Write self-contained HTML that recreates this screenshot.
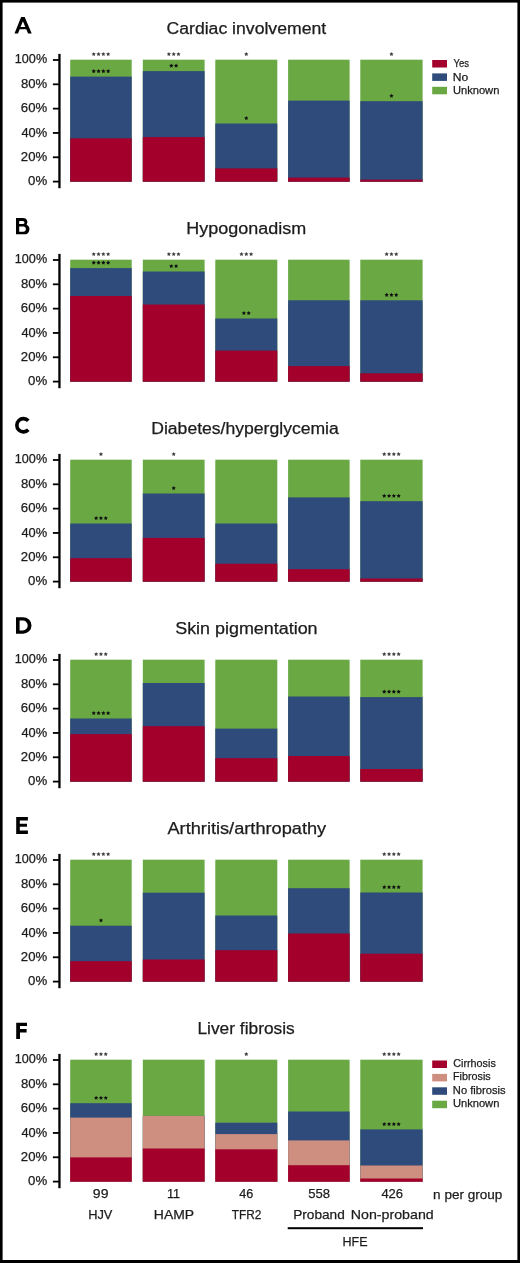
<!DOCTYPE html><html><head><meta charset="utf-8"><style>html,body{margin:0;padding:0;background:#fff;}svg{display:block;will-change:transform;}text{font-family:"Liberation Sans",sans-serif;}</style></head><body>
<svg width="520" height="1263" viewBox="0 0 520 1263">
<rect x="0" y="0" width="520" height="1263" fill="#000"/>
<rect x="2.6" y="2.6" width="514.8" height="1257.4" fill="#fff"/>
<g transform="translate(0,0)">
<path fill="#000" fill-rule="evenodd" d="M14.5 33.6L21.1 17.1H24.7L31.7 33.6H28.1L26.3 29.3H19.7L18 33.6ZM22.9 21.3L20.6 27.1H25.3Z"/>
<text x="166.51" y="33.5" font-size="16" fill="#1c1c1c" stroke="#1c1c1c" stroke-width="0.25" textLength="159.62" lengthAdjust="spacingAndGlyphs">Cardiac involvement</text>
<rect x="58.3" y="53.9" width="2.3" height="134.3" fill="#000"/>
<rect x="52.9" y="180.70" width="6" height="1.8" fill="#000"/>
<text x="28.08" y="185.36" font-size="12.5" fill="#1c1c1c" stroke="#1c1c1c" stroke-width="0.25" textLength="19.09" lengthAdjust="spacingAndGlyphs">0%</text>
<rect x="52.9" y="156.38" width="6" height="1.8" fill="#000"/>
<text x="20.84" y="161.04" font-size="12.5" fill="#1c1c1c" stroke="#1c1c1c" stroke-width="0.25" textLength="26.33" lengthAdjust="spacingAndGlyphs">20%</text>
<rect x="52.9" y="132.06" width="6" height="1.8" fill="#000"/>
<text x="21.4" y="136.72" font-size="12.5" fill="#1c1c1c" stroke="#1c1c1c" stroke-width="0.25" textLength="25.75" lengthAdjust="spacingAndGlyphs">40%</text>
<rect x="52.9" y="107.74" width="6" height="1.8" fill="#000"/>
<text x="20.83" y="112.4" font-size="12.5" fill="#1c1c1c" stroke="#1c1c1c" stroke-width="0.25" textLength="26.34" lengthAdjust="spacingAndGlyphs">60%</text>
<rect x="52.9" y="83.42" width="6" height="1.8" fill="#000"/>
<text x="20.93" y="88.08" font-size="12.5" fill="#1c1c1c" stroke="#1c1c1c" stroke-width="0.25" textLength="26.24" lengthAdjust="spacingAndGlyphs">80%</text>
<rect x="52.9" y="59.10" width="6" height="1.8" fill="#000"/>
<text x="14.84" y="62.96" font-size="12.5" fill="#1c1c1c" stroke="#1c1c1c" stroke-width="0.25" textLength="32.31" lengthAdjust="spacingAndGlyphs">100%</text>
<rect x="70.2" y="59.7" width="61.5" height="122.00" fill="#69A843"/>
<rect x="70.2" y="76.6" width="61.5" height="105.10" fill="#2E4B7B"/>
<rect x="70.2" y="138.3" width="61.5" height="43.40" fill="#A3002B"/>
<polygon points="93.75,52.00 94.43,53.27 95.84,53.52 94.84,54.56 95.04,55.98 93.75,55.35 92.46,55.98 92.66,54.56 91.66,53.52 93.07,53.27" fill="#404040"/><polygon points="98.55,52.00 99.23,53.27 100.64,53.52 99.64,54.56 99.84,55.98 98.55,55.35 97.26,55.98 97.46,54.56 96.46,53.52 97.87,53.27" fill="#404040"/><polygon points="103.35,52.00 104.03,53.27 105.44,53.52 104.44,54.56 104.64,55.98 103.35,55.35 102.06,55.98 102.26,54.56 101.26,53.52 102.67,53.27" fill="#404040"/><polygon points="108.15,52.00 108.83,53.27 110.24,53.52 109.24,54.56 109.44,55.98 108.15,55.35 106.86,55.98 107.06,54.56 106.06,53.52 107.47,53.27" fill="#404040"/>
<polygon points="93.75,69.10 94.43,70.37 95.84,70.62 94.84,71.66 95.04,73.08 93.75,72.45 92.46,73.08 92.66,71.66 91.66,70.62 93.07,70.37" fill="#111"/><polygon points="98.55,69.10 99.23,70.37 100.64,70.62 99.64,71.66 99.84,73.08 98.55,72.45 97.26,73.08 97.46,71.66 96.46,70.62 97.87,70.37" fill="#111"/><polygon points="103.35,69.10 104.03,70.37 105.44,70.62 104.44,71.66 104.64,73.08 103.35,72.45 102.06,73.08 102.26,71.66 101.26,70.62 102.67,70.37" fill="#111"/><polygon points="108.15,69.10 108.83,70.37 110.24,70.62 109.24,71.66 109.44,73.08 108.15,72.45 106.86,73.08 107.06,71.66 106.06,70.62 107.47,70.37" fill="#111"/>
<rect x="142.8" y="59.7" width="61.8" height="122.00" fill="#69A843"/>
<rect x="142.8" y="71.1" width="61.8" height="110.60" fill="#2E4B7B"/>
<rect x="142.8" y="137.1" width="61.8" height="44.60" fill="#A3002B"/>
<polygon points="168.90,52.00 169.58,53.27 170.99,53.52 169.99,54.56 170.19,55.98 168.90,55.35 167.61,55.98 167.81,54.56 166.81,53.52 168.22,53.27" fill="#404040"/><polygon points="173.70,52.00 174.38,53.27 175.79,53.52 174.79,54.56 174.99,55.98 173.70,55.35 172.41,55.98 172.61,54.56 171.61,53.52 173.02,53.27" fill="#404040"/><polygon points="178.50,52.00 179.18,53.27 180.59,53.52 179.59,54.56 179.79,55.98 178.50,55.35 177.21,55.98 177.41,54.56 176.41,53.52 177.82,53.27" fill="#404040"/>
<polygon points="171.30,63.60 171.98,64.87 173.39,65.12 172.39,66.16 172.59,67.58 171.30,66.95 170.01,67.58 170.21,66.16 169.21,65.12 170.62,64.87" fill="#111"/><polygon points="176.10,63.60 176.78,64.87 178.19,65.12 177.19,66.16 177.39,67.58 176.10,66.95 174.81,67.58 175.01,66.16 174.01,65.12 175.42,64.87" fill="#111"/>
<rect x="215.3" y="59.7" width="62.0" height="122.00" fill="#69A843"/>
<rect x="215.3" y="123.5" width="62.0" height="58.20" fill="#2E4B7B"/>
<rect x="215.3" y="168.4" width="62.0" height="13.30" fill="#A3002B"/>
<polygon points="246.30,52.00 246.98,53.27 248.39,53.52 247.39,54.56 247.59,55.98 246.30,55.35 245.01,55.98 245.21,54.56 244.21,53.52 245.62,53.27" fill="#404040"/>
<polygon points="246.30,116.00 246.98,117.27 248.39,117.52 247.39,118.56 247.59,119.98 246.30,119.35 245.01,119.98 245.21,118.56 244.21,117.52 245.62,117.27" fill="#111"/>
<rect x="288.1" y="59.7" width="61.5" height="122.00" fill="#69A843"/>
<rect x="288.1" y="100.6" width="61.5" height="81.10" fill="#2E4B7B"/>
<rect x="288.1" y="177.6" width="61.5" height="4.10" fill="#A3002B"/>
<rect x="360.3" y="59.7" width="62.3" height="122.00" fill="#69A843"/>
<rect x="360.3" y="101.2" width="62.3" height="80.50" fill="#2E4B7B"/>
<rect x="360.3" y="179.6" width="62.3" height="2.10" fill="#A3002B"/>
<polygon points="391.45,52.00 392.13,53.27 393.54,53.52 392.54,54.56 392.74,55.98 391.45,55.35 390.16,55.98 390.36,54.56 389.36,53.52 390.77,53.27" fill="#404040"/>
<polygon points="391.45,93.70 392.13,94.97 393.54,95.22 392.54,96.26 392.74,97.68 391.45,97.05 390.16,97.68 390.36,96.26 389.36,95.22 390.77,94.97" fill="#111"/>
<rect x="432.2" y="60.00" width="14.8" height="7.5" fill="#A3002B"/>
<text x="453.6" y="67.2" font-size="11" fill="#1c1c1c" stroke="#1c1c1c" stroke-width="0.25" textLength="15.47" lengthAdjust="spacingAndGlyphs">Yes</text>
<rect x="432.2" y="73.40" width="14.8" height="7.5" fill="#2E4B7B"/>
<text x="452.81" y="80.6" font-size="11" fill="#1c1c1c" stroke="#1c1c1c" stroke-width="0.25" textLength="15.47" lengthAdjust="spacingAndGlyphs">No</text>
<rect x="432.2" y="86.80" width="14.8" height="7.5" fill="#69A843"/>
<text x="452.94" y="94.0" font-size="11" fill="#1c1c1c" stroke="#1c1c1c" stroke-width="0.25" textLength="46.38" lengthAdjust="spacingAndGlyphs">Unknown</text>
</g>
<g transform="translate(0,200)">
<path fill="#000" fill-rule="evenodd" d="M16 18H23.3A4.2 4.2 0 0 1 26.68 24.69A5.1 5.1 0 0 1 24.3 34.3H16ZM19.2 20.9V24.1H22.9A1.6 1.6 0 0 0 22.9 20.9ZM19.2 26.4V31.7H23.2A2.65 2.65 0 0 0 23.2 26.4Z"/>
<text x="186.33" y="33.5" font-size="16" fill="#1c1c1c" stroke="#1c1c1c" stroke-width="0.25" textLength="119.86" lengthAdjust="spacingAndGlyphs">Hypogonadism</text>
<rect x="58.3" y="53.9" width="2.3" height="134.3" fill="#000"/>
<rect x="52.9" y="180.70" width="6" height="1.8" fill="#000"/>
<text x="28.08" y="185.36" font-size="12.5" fill="#1c1c1c" stroke="#1c1c1c" stroke-width="0.25" textLength="19.09" lengthAdjust="spacingAndGlyphs">0%</text>
<rect x="52.9" y="156.38" width="6" height="1.8" fill="#000"/>
<text x="20.84" y="161.04" font-size="12.5" fill="#1c1c1c" stroke="#1c1c1c" stroke-width="0.25" textLength="26.33" lengthAdjust="spacingAndGlyphs">20%</text>
<rect x="52.9" y="132.06" width="6" height="1.8" fill="#000"/>
<text x="21.4" y="136.72" font-size="12.5" fill="#1c1c1c" stroke="#1c1c1c" stroke-width="0.25" textLength="25.75" lengthAdjust="spacingAndGlyphs">40%</text>
<rect x="52.9" y="107.74" width="6" height="1.8" fill="#000"/>
<text x="20.83" y="112.4" font-size="12.5" fill="#1c1c1c" stroke="#1c1c1c" stroke-width="0.25" textLength="26.34" lengthAdjust="spacingAndGlyphs">60%</text>
<rect x="52.9" y="83.42" width="6" height="1.8" fill="#000"/>
<text x="20.93" y="88.08" font-size="12.5" fill="#1c1c1c" stroke="#1c1c1c" stroke-width="0.25" textLength="26.24" lengthAdjust="spacingAndGlyphs">80%</text>
<rect x="52.9" y="59.10" width="6" height="1.8" fill="#000"/>
<text x="14.84" y="62.96" font-size="12.5" fill="#1c1c1c" stroke="#1c1c1c" stroke-width="0.25" textLength="32.31" lengthAdjust="spacingAndGlyphs">100%</text>
<rect x="70.2" y="59.7" width="61.5" height="122.00" fill="#69A843"/>
<rect x="70.2" y="68.1" width="61.5" height="113.60" fill="#2E4B7B"/>
<rect x="70.2" y="96.0" width="61.5" height="85.70" fill="#A3002B"/>
<polygon points="93.75,52.00 94.43,53.27 95.84,53.52 94.84,54.56 95.04,55.98 93.75,55.35 92.46,55.98 92.66,54.56 91.66,53.52 93.07,53.27" fill="#404040"/><polygon points="98.55,52.00 99.23,53.27 100.64,53.52 99.64,54.56 99.84,55.98 98.55,55.35 97.26,55.98 97.46,54.56 96.46,53.52 97.87,53.27" fill="#404040"/><polygon points="103.35,52.00 104.03,53.27 105.44,53.52 104.44,54.56 104.64,55.98 103.35,55.35 102.06,55.98 102.26,54.56 101.26,53.52 102.67,53.27" fill="#404040"/><polygon points="108.15,52.00 108.83,53.27 110.24,53.52 109.24,54.56 109.44,55.98 108.15,55.35 106.86,55.98 107.06,54.56 106.06,53.52 107.47,53.27" fill="#404040"/>
<polygon points="93.75,60.60 94.43,61.87 95.84,62.12 94.84,63.16 95.04,64.58 93.75,63.95 92.46,64.58 92.66,63.16 91.66,62.12 93.07,61.87" fill="#111"/><polygon points="98.55,60.60 99.23,61.87 100.64,62.12 99.64,63.16 99.84,64.58 98.55,63.95 97.26,64.58 97.46,63.16 96.46,62.12 97.87,61.87" fill="#111"/><polygon points="103.35,60.60 104.03,61.87 105.44,62.12 104.44,63.16 104.64,64.58 103.35,63.95 102.06,64.58 102.26,63.16 101.26,62.12 102.67,61.87" fill="#111"/><polygon points="108.15,60.60 108.83,61.87 110.24,62.12 109.24,63.16 109.44,64.58 108.15,63.95 106.86,64.58 107.06,63.16 106.06,62.12 107.47,61.87" fill="#111"/>
<rect x="142.8" y="59.7" width="61.8" height="122.00" fill="#69A843"/>
<rect x="142.8" y="71.5" width="61.8" height="110.20" fill="#2E4B7B"/>
<rect x="142.8" y="104.5" width="61.8" height="77.20" fill="#A3002B"/>
<polygon points="168.90,52.00 169.58,53.27 170.99,53.52 169.99,54.56 170.19,55.98 168.90,55.35 167.61,55.98 167.81,54.56 166.81,53.52 168.22,53.27" fill="#404040"/><polygon points="173.70,52.00 174.38,53.27 175.79,53.52 174.79,54.56 174.99,55.98 173.70,55.35 172.41,55.98 172.61,54.56 171.61,53.52 173.02,53.27" fill="#404040"/><polygon points="178.50,52.00 179.18,53.27 180.59,53.52 179.59,54.56 179.79,55.98 178.50,55.35 177.21,55.98 177.41,54.56 176.41,53.52 177.82,53.27" fill="#404040"/>
<polygon points="171.30,64.00 171.98,65.27 173.39,65.52 172.39,66.56 172.59,67.98 171.30,67.35 170.01,67.98 170.21,66.56 169.21,65.52 170.62,65.27" fill="#111"/><polygon points="176.10,64.00 176.78,65.27 178.19,65.52 177.19,66.56 177.39,67.98 176.10,67.35 174.81,67.98 175.01,66.56 174.01,65.52 175.42,65.27" fill="#111"/>
<rect x="215.3" y="59.7" width="62.0" height="122.00" fill="#69A843"/>
<rect x="215.3" y="118.5" width="62.0" height="63.20" fill="#2E4B7B"/>
<rect x="215.3" y="150.6" width="62.0" height="31.10" fill="#A3002B"/>
<polygon points="241.50,52.00 242.18,53.27 243.59,53.52 242.59,54.56 242.79,55.98 241.50,55.35 240.21,55.98 240.41,54.56 239.41,53.52 240.82,53.27" fill="#404040"/><polygon points="246.30,52.00 246.98,53.27 248.39,53.52 247.39,54.56 247.59,55.98 246.30,55.35 245.01,55.98 245.21,54.56 244.21,53.52 245.62,53.27" fill="#404040"/><polygon points="251.10,52.00 251.78,53.27 253.19,53.52 252.19,54.56 252.39,55.98 251.10,55.35 249.81,55.98 250.01,54.56 249.01,53.52 250.42,53.27" fill="#404040"/>
<polygon points="243.90,111.00 244.58,112.27 245.99,112.52 244.99,113.56 245.19,114.98 243.90,114.35 242.61,114.98 242.81,113.56 241.81,112.52 243.22,112.27" fill="#111"/><polygon points="248.70,111.00 249.38,112.27 250.79,112.52 249.79,113.56 249.99,114.98 248.70,114.35 247.41,114.98 247.61,113.56 246.61,112.52 248.02,112.27" fill="#111"/>
<rect x="288.1" y="59.7" width="61.5" height="122.00" fill="#69A843"/>
<rect x="288.1" y="100.3" width="61.5" height="81.40" fill="#2E4B7B"/>
<rect x="288.1" y="166.1" width="61.5" height="15.60" fill="#A3002B"/>
<rect x="360.3" y="59.7" width="62.3" height="122.00" fill="#69A843"/>
<rect x="360.3" y="100.3" width="62.3" height="81.40" fill="#2E4B7B"/>
<rect x="360.3" y="173.3" width="62.3" height="8.40" fill="#A3002B"/>
<polygon points="386.65,52.00 387.33,53.27 388.74,53.52 387.74,54.56 387.94,55.98 386.65,55.35 385.36,55.98 385.56,54.56 384.56,53.52 385.97,53.27" fill="#404040"/><polygon points="391.45,52.00 392.13,53.27 393.54,53.52 392.54,54.56 392.74,55.98 391.45,55.35 390.16,55.98 390.36,54.56 389.36,53.52 390.77,53.27" fill="#404040"/><polygon points="396.25,52.00 396.93,53.27 398.34,53.52 397.34,54.56 397.54,55.98 396.25,55.35 394.96,55.98 395.16,54.56 394.16,53.52 395.57,53.27" fill="#404040"/>
<polygon points="386.65,92.80 387.33,94.07 388.74,94.32 387.74,95.36 387.94,96.78 386.65,96.15 385.36,96.78 385.56,95.36 384.56,94.32 385.97,94.07" fill="#111"/><polygon points="391.45,92.80 392.13,94.07 393.54,94.32 392.54,95.36 392.74,96.78 391.45,96.15 390.16,96.78 390.36,95.36 389.36,94.32 390.77,94.07" fill="#111"/><polygon points="396.25,92.80 396.93,94.07 398.34,94.32 397.34,95.36 397.54,96.78 396.25,96.15 394.96,96.78 395.16,95.36 394.16,94.32 395.57,94.07" fill="#111"/>
</g>
<g transform="translate(0,400)">
<path fill="none" stroke="#000" stroke-width="3.6" d="M28.30 20.65A6.65 6.65 0 1 0 28.30 29.85"/>
<text x="151.26" y="33.5" font-size="16" fill="#1c1c1c" stroke="#1c1c1c" stroke-width="0.25" textLength="187.54" lengthAdjust="spacingAndGlyphs">Diabetes/hyperglycemia</text>
<rect x="58.3" y="53.9" width="2.3" height="134.3" fill="#000"/>
<rect x="52.9" y="180.70" width="6" height="1.8" fill="#000"/>
<text x="28.08" y="185.36" font-size="12.5" fill="#1c1c1c" stroke="#1c1c1c" stroke-width="0.25" textLength="19.09" lengthAdjust="spacingAndGlyphs">0%</text>
<rect x="52.9" y="156.38" width="6" height="1.8" fill="#000"/>
<text x="20.84" y="161.04" font-size="12.5" fill="#1c1c1c" stroke="#1c1c1c" stroke-width="0.25" textLength="26.33" lengthAdjust="spacingAndGlyphs">20%</text>
<rect x="52.9" y="132.06" width="6" height="1.8" fill="#000"/>
<text x="21.4" y="136.72" font-size="12.5" fill="#1c1c1c" stroke="#1c1c1c" stroke-width="0.25" textLength="25.75" lengthAdjust="spacingAndGlyphs">40%</text>
<rect x="52.9" y="107.74" width="6" height="1.8" fill="#000"/>
<text x="20.83" y="112.4" font-size="12.5" fill="#1c1c1c" stroke="#1c1c1c" stroke-width="0.25" textLength="26.34" lengthAdjust="spacingAndGlyphs">60%</text>
<rect x="52.9" y="83.42" width="6" height="1.8" fill="#000"/>
<text x="20.93" y="88.08" font-size="12.5" fill="#1c1c1c" stroke="#1c1c1c" stroke-width="0.25" textLength="26.24" lengthAdjust="spacingAndGlyphs">80%</text>
<rect x="52.9" y="59.10" width="6" height="1.8" fill="#000"/>
<text x="14.84" y="62.96" font-size="12.5" fill="#1c1c1c" stroke="#1c1c1c" stroke-width="0.25" textLength="32.31" lengthAdjust="spacingAndGlyphs">100%</text>
<rect x="70.2" y="59.7" width="61.5" height="122.00" fill="#69A843"/>
<rect x="70.2" y="123.5" width="61.5" height="58.20" fill="#2E4B7B"/>
<rect x="70.2" y="158.2" width="61.5" height="23.50" fill="#A3002B"/>
<polygon points="100.95,52.00 101.63,53.27 103.04,53.52 102.04,54.56 102.24,55.98 100.95,55.35 99.66,55.98 99.86,54.56 98.86,53.52 100.27,53.27" fill="#404040"/>
<polygon points="96.15,116.00 96.83,117.27 98.24,117.52 97.24,118.56 97.44,119.98 96.15,119.35 94.86,119.98 95.06,118.56 94.06,117.52 95.47,117.27" fill="#111"/><polygon points="100.95,116.00 101.63,117.27 103.04,117.52 102.04,118.56 102.24,119.98 100.95,119.35 99.66,119.98 99.86,118.56 98.86,117.52 100.27,117.27" fill="#111"/><polygon points="105.75,116.00 106.43,117.27 107.84,117.52 106.84,118.56 107.04,119.98 105.75,119.35 104.46,119.98 104.66,118.56 103.66,117.52 105.07,117.27" fill="#111"/>
<rect x="142.8" y="59.7" width="61.8" height="122.00" fill="#69A843"/>
<rect x="142.8" y="93.5" width="61.8" height="88.20" fill="#2E4B7B"/>
<rect x="142.8" y="137.9" width="61.8" height="43.80" fill="#A3002B"/>
<polygon points="173.70,52.00 174.38,53.27 175.79,53.52 174.79,54.56 174.99,55.98 173.70,55.35 172.41,55.98 172.61,54.56 171.61,53.52 173.02,53.27" fill="#404040"/>
<polygon points="173.70,86.00 174.38,87.27 175.79,87.52 174.79,88.56 174.99,89.98 173.70,89.35 172.41,89.98 172.61,88.56 171.61,87.52 173.02,87.27" fill="#111"/>
<rect x="215.3" y="59.7" width="62.0" height="122.00" fill="#69A843"/>
<rect x="215.3" y="123.5" width="62.0" height="58.20" fill="#2E4B7B"/>
<rect x="215.3" y="163.7" width="62.0" height="18.00" fill="#A3002B"/>
<rect x="288.1" y="59.7" width="61.5" height="122.00" fill="#69A843"/>
<rect x="288.1" y="97.4" width="61.5" height="84.30" fill="#2E4B7B"/>
<rect x="288.1" y="169.2" width="61.5" height="12.50" fill="#A3002B"/>
<rect x="360.3" y="59.7" width="62.3" height="122.00" fill="#69A843"/>
<rect x="360.3" y="101.2" width="62.3" height="80.50" fill="#2E4B7B"/>
<rect x="360.3" y="178.5" width="62.3" height="3.20" fill="#A3002B"/>
<polygon points="384.25,52.00 384.93,53.27 386.34,53.52 385.34,54.56 385.54,55.98 384.25,55.35 382.96,55.98 383.16,54.56 382.16,53.52 383.57,53.27" fill="#404040"/><polygon points="389.05,52.00 389.73,53.27 391.14,53.52 390.14,54.56 390.34,55.98 389.05,55.35 387.76,55.98 387.96,54.56 386.96,53.52 388.37,53.27" fill="#404040"/><polygon points="393.85,52.00 394.53,53.27 395.94,53.52 394.94,54.56 395.14,55.98 393.85,55.35 392.56,55.98 392.76,54.56 391.76,53.52 393.17,53.27" fill="#404040"/><polygon points="398.65,52.00 399.33,53.27 400.74,53.52 399.74,54.56 399.94,55.98 398.65,55.35 397.36,55.98 397.56,54.56 396.56,53.52 397.97,53.27" fill="#404040"/>
<polygon points="384.25,93.70 384.93,94.97 386.34,95.22 385.34,96.26 385.54,97.68 384.25,97.05 382.96,97.68 383.16,96.26 382.16,95.22 383.57,94.97" fill="#111"/><polygon points="389.05,93.70 389.73,94.97 391.14,95.22 390.14,96.26 390.34,97.68 389.05,97.05 387.76,97.68 387.96,96.26 386.96,95.22 388.37,94.97" fill="#111"/><polygon points="393.85,93.70 394.53,94.97 395.94,95.22 394.94,96.26 395.14,97.68 393.85,97.05 392.56,97.68 392.76,96.26 391.76,95.22 393.17,94.97" fill="#111"/><polygon points="398.65,93.70 399.33,94.97 400.74,95.22 399.74,96.26 399.94,97.68 398.65,97.05 397.36,97.68 397.56,96.26 396.56,95.22 397.97,94.97" fill="#111"/>
</g>
<g transform="translate(0,600)">
<path fill="#000" fill-rule="evenodd" d="M16 17.2H23A8.5 8.25 0 0 1 23 33.7H16ZM19.6 20.4V30.5H22.8A4.9 5.05 0 0 0 22.8 20.4Z"/>
<text x="175.19" y="33.5" font-size="16" fill="#1c1c1c" stroke="#1c1c1c" stroke-width="0.25" textLength="142.38" lengthAdjust="spacingAndGlyphs">Skin pigmentation</text>
<rect x="58.3" y="53.9" width="2.3" height="134.3" fill="#000"/>
<rect x="52.9" y="180.70" width="6" height="1.8" fill="#000"/>
<text x="28.08" y="185.36" font-size="12.5" fill="#1c1c1c" stroke="#1c1c1c" stroke-width="0.25" textLength="19.09" lengthAdjust="spacingAndGlyphs">0%</text>
<rect x="52.9" y="156.38" width="6" height="1.8" fill="#000"/>
<text x="20.84" y="161.04" font-size="12.5" fill="#1c1c1c" stroke="#1c1c1c" stroke-width="0.25" textLength="26.33" lengthAdjust="spacingAndGlyphs">20%</text>
<rect x="52.9" y="132.06" width="6" height="1.8" fill="#000"/>
<text x="21.4" y="136.72" font-size="12.5" fill="#1c1c1c" stroke="#1c1c1c" stroke-width="0.25" textLength="25.75" lengthAdjust="spacingAndGlyphs">40%</text>
<rect x="52.9" y="107.74" width="6" height="1.8" fill="#000"/>
<text x="20.83" y="112.4" font-size="12.5" fill="#1c1c1c" stroke="#1c1c1c" stroke-width="0.25" textLength="26.34" lengthAdjust="spacingAndGlyphs">60%</text>
<rect x="52.9" y="83.42" width="6" height="1.8" fill="#000"/>
<text x="20.93" y="88.08" font-size="12.5" fill="#1c1c1c" stroke="#1c1c1c" stroke-width="0.25" textLength="26.24" lengthAdjust="spacingAndGlyphs">80%</text>
<rect x="52.9" y="59.10" width="6" height="1.8" fill="#000"/>
<text x="14.84" y="62.96" font-size="12.5" fill="#1c1c1c" stroke="#1c1c1c" stroke-width="0.25" textLength="32.31" lengthAdjust="spacingAndGlyphs">100%</text>
<rect x="70.2" y="59.7" width="61.5" height="122.00" fill="#69A843"/>
<rect x="70.2" y="118.5" width="61.5" height="63.20" fill="#2E4B7B"/>
<rect x="70.2" y="134.1" width="61.5" height="47.60" fill="#A3002B"/>
<polygon points="96.15,52.00 96.83,53.27 98.24,53.52 97.24,54.56 97.44,55.98 96.15,55.35 94.86,55.98 95.06,54.56 94.06,53.52 95.47,53.27" fill="#404040"/><polygon points="100.95,52.00 101.63,53.27 103.04,53.52 102.04,54.56 102.24,55.98 100.95,55.35 99.66,55.98 99.86,54.56 98.86,53.52 100.27,53.27" fill="#404040"/><polygon points="105.75,52.00 106.43,53.27 107.84,53.52 106.84,54.56 107.04,55.98 105.75,55.35 104.46,55.98 104.66,54.56 103.66,53.52 105.07,53.27" fill="#404040"/>
<polygon points="93.75,111.00 94.43,112.27 95.84,112.52 94.84,113.56 95.04,114.98 93.75,114.35 92.46,114.98 92.66,113.56 91.66,112.52 93.07,112.27" fill="#111"/><polygon points="98.55,111.00 99.23,112.27 100.64,112.52 99.64,113.56 99.84,114.98 98.55,114.35 97.26,114.98 97.46,113.56 96.46,112.52 97.87,112.27" fill="#111"/><polygon points="103.35,111.00 104.03,112.27 105.44,112.52 104.44,113.56 104.64,114.98 103.35,114.35 102.06,114.98 102.26,113.56 101.26,112.52 102.67,112.27" fill="#111"/><polygon points="108.15,111.00 108.83,112.27 110.24,112.52 109.24,113.56 109.44,114.98 108.15,114.35 106.86,114.98 107.06,113.56 106.06,112.52 107.47,112.27" fill="#111"/>
<rect x="142.8" y="59.7" width="61.8" height="122.00" fill="#69A843"/>
<rect x="142.8" y="83.0" width="61.8" height="98.70" fill="#2E4B7B"/>
<rect x="142.8" y="126.2" width="61.8" height="55.50" fill="#A3002B"/>
<rect x="215.3" y="59.7" width="62.0" height="122.00" fill="#69A843"/>
<rect x="215.3" y="128.6" width="62.0" height="53.10" fill="#2E4B7B"/>
<rect x="215.3" y="158.2" width="62.0" height="23.50" fill="#A3002B"/>
<rect x="288.1" y="59.7" width="61.5" height="122.00" fill="#69A843"/>
<rect x="288.1" y="96.5" width="61.5" height="85.20" fill="#2E4B7B"/>
<rect x="288.1" y="156.0" width="61.5" height="25.70" fill="#A3002B"/>
<rect x="360.3" y="59.7" width="62.3" height="122.00" fill="#69A843"/>
<rect x="360.3" y="97.1" width="62.3" height="84.60" fill="#2E4B7B"/>
<rect x="360.3" y="169.0" width="62.3" height="12.70" fill="#A3002B"/>
<polygon points="384.25,52.00 384.93,53.27 386.34,53.52 385.34,54.56 385.54,55.98 384.25,55.35 382.96,55.98 383.16,54.56 382.16,53.52 383.57,53.27" fill="#404040"/><polygon points="389.05,52.00 389.73,53.27 391.14,53.52 390.14,54.56 390.34,55.98 389.05,55.35 387.76,55.98 387.96,54.56 386.96,53.52 388.37,53.27" fill="#404040"/><polygon points="393.85,52.00 394.53,53.27 395.94,53.52 394.94,54.56 395.14,55.98 393.85,55.35 392.56,55.98 392.76,54.56 391.76,53.52 393.17,53.27" fill="#404040"/><polygon points="398.65,52.00 399.33,53.27 400.74,53.52 399.74,54.56 399.94,55.98 398.65,55.35 397.36,55.98 397.56,54.56 396.56,53.52 397.97,53.27" fill="#404040"/>
<polygon points="384.25,89.60 384.93,90.87 386.34,91.12 385.34,92.16 385.54,93.58 384.25,92.95 382.96,93.58 383.16,92.16 382.16,91.12 383.57,90.87" fill="#111"/><polygon points="389.05,89.60 389.73,90.87 391.14,91.12 390.14,92.16 390.34,93.58 389.05,92.95 387.76,93.58 387.96,92.16 386.96,91.12 388.37,90.87" fill="#111"/><polygon points="393.85,89.60 394.53,90.87 395.94,91.12 394.94,92.16 395.14,93.58 393.85,92.95 392.56,93.58 392.76,92.16 391.76,91.12 393.17,90.87" fill="#111"/><polygon points="398.65,89.60 399.33,90.87 400.74,91.12 399.74,92.16 399.94,93.58 398.65,92.95 397.36,93.58 397.56,92.16 396.56,91.12 397.97,90.87" fill="#111"/>
</g>
<g transform="translate(0,800)">
<path fill="#000" d="M16.2 17.1H27.9V20.5H19.8V23.7H27V26.7H19.8V30.4H27.9V33.9H16.2Z"/>
<text x="167.46" y="33.5" font-size="16" fill="#1c1c1c" stroke="#1c1c1c" stroke-width="0.25" textLength="158.77" lengthAdjust="spacingAndGlyphs">Arthritis/arthropathy</text>
<rect x="58.3" y="53.9" width="2.3" height="134.3" fill="#000"/>
<rect x="52.9" y="180.70" width="6" height="1.8" fill="#000"/>
<text x="28.08" y="185.36" font-size="12.5" fill="#1c1c1c" stroke="#1c1c1c" stroke-width="0.25" textLength="19.09" lengthAdjust="spacingAndGlyphs">0%</text>
<rect x="52.9" y="156.38" width="6" height="1.8" fill="#000"/>
<text x="20.84" y="161.04" font-size="12.5" fill="#1c1c1c" stroke="#1c1c1c" stroke-width="0.25" textLength="26.33" lengthAdjust="spacingAndGlyphs">20%</text>
<rect x="52.9" y="132.06" width="6" height="1.8" fill="#000"/>
<text x="21.4" y="136.72" font-size="12.5" fill="#1c1c1c" stroke="#1c1c1c" stroke-width="0.25" textLength="25.75" lengthAdjust="spacingAndGlyphs">40%</text>
<rect x="52.9" y="107.74" width="6" height="1.8" fill="#000"/>
<text x="20.83" y="112.4" font-size="12.5" fill="#1c1c1c" stroke="#1c1c1c" stroke-width="0.25" textLength="26.34" lengthAdjust="spacingAndGlyphs">60%</text>
<rect x="52.9" y="83.42" width="6" height="1.8" fill="#000"/>
<text x="20.93" y="88.08" font-size="12.5" fill="#1c1c1c" stroke="#1c1c1c" stroke-width="0.25" textLength="26.24" lengthAdjust="spacingAndGlyphs">80%</text>
<rect x="52.9" y="59.10" width="6" height="1.8" fill="#000"/>
<text x="14.84" y="62.96" font-size="12.5" fill="#1c1c1c" stroke="#1c1c1c" stroke-width="0.25" textLength="32.31" lengthAdjust="spacingAndGlyphs">100%</text>
<rect x="70.2" y="59.7" width="61.5" height="122.00" fill="#69A843"/>
<rect x="70.2" y="125.7" width="61.5" height="56.00" fill="#2E4B7B"/>
<rect x="70.2" y="161.2" width="61.5" height="20.50" fill="#A3002B"/>
<polygon points="93.75,52.00 94.43,53.27 95.84,53.52 94.84,54.56 95.04,55.98 93.75,55.35 92.46,55.98 92.66,54.56 91.66,53.52 93.07,53.27" fill="#404040"/><polygon points="98.55,52.00 99.23,53.27 100.64,53.52 99.64,54.56 99.84,55.98 98.55,55.35 97.26,55.98 97.46,54.56 96.46,53.52 97.87,53.27" fill="#404040"/><polygon points="103.35,52.00 104.03,53.27 105.44,53.52 104.44,54.56 104.64,55.98 103.35,55.35 102.06,55.98 102.26,54.56 101.26,53.52 102.67,53.27" fill="#404040"/><polygon points="108.15,52.00 108.83,53.27 110.24,53.52 109.24,54.56 109.44,55.98 108.15,55.35 106.86,55.98 107.06,54.56 106.06,53.52 107.47,53.27" fill="#404040"/>
<polygon points="100.95,118.20 101.63,119.47 103.04,119.72 102.04,120.76 102.24,122.18 100.95,121.55 99.66,122.18 99.86,120.76 98.86,119.72 100.27,119.47" fill="#111"/>
<rect x="142.8" y="59.7" width="61.8" height="122.00" fill="#69A843"/>
<rect x="142.8" y="92.7" width="61.8" height="89.00" fill="#2E4B7B"/>
<rect x="142.8" y="159.5" width="61.8" height="22.20" fill="#A3002B"/>
<rect x="215.3" y="59.7" width="62.0" height="122.00" fill="#69A843"/>
<rect x="215.3" y="115.5" width="62.0" height="66.20" fill="#2E4B7B"/>
<rect x="215.3" y="150.2" width="62.0" height="31.50" fill="#A3002B"/>
<rect x="288.1" y="59.7" width="61.5" height="122.00" fill="#69A843"/>
<rect x="288.1" y="88.2" width="61.5" height="93.50" fill="#2E4B7B"/>
<rect x="288.1" y="133.5" width="61.5" height="48.20" fill="#A3002B"/>
<rect x="360.3" y="59.7" width="62.3" height="122.00" fill="#69A843"/>
<rect x="360.3" y="92.5" width="62.3" height="89.20" fill="#2E4B7B"/>
<rect x="360.3" y="153.7" width="62.3" height="28.00" fill="#A3002B"/>
<polygon points="384.25,52.00 384.93,53.27 386.34,53.52 385.34,54.56 385.54,55.98 384.25,55.35 382.96,55.98 383.16,54.56 382.16,53.52 383.57,53.27" fill="#404040"/><polygon points="389.05,52.00 389.73,53.27 391.14,53.52 390.14,54.56 390.34,55.98 389.05,55.35 387.76,55.98 387.96,54.56 386.96,53.52 388.37,53.27" fill="#404040"/><polygon points="393.85,52.00 394.53,53.27 395.94,53.52 394.94,54.56 395.14,55.98 393.85,55.35 392.56,55.98 392.76,54.56 391.76,53.52 393.17,53.27" fill="#404040"/><polygon points="398.65,52.00 399.33,53.27 400.74,53.52 399.74,54.56 399.94,55.98 398.65,55.35 397.36,55.98 397.56,54.56 396.56,53.52 397.97,53.27" fill="#404040"/>
<polygon points="384.25,85.00 384.93,86.27 386.34,86.52 385.34,87.56 385.54,88.98 384.25,88.35 382.96,88.98 383.16,87.56 382.16,86.52 383.57,86.27" fill="#111"/><polygon points="389.05,85.00 389.73,86.27 391.14,86.52 390.14,87.56 390.34,88.98 389.05,88.35 387.76,88.98 387.96,87.56 386.96,86.52 388.37,86.27" fill="#111"/><polygon points="393.85,85.00 394.53,86.27 395.94,86.52 394.94,87.56 395.14,88.98 393.85,88.35 392.56,88.98 392.76,87.56 391.76,86.52 393.17,86.27" fill="#111"/><polygon points="398.65,85.00 399.33,86.27 400.74,86.52 399.74,87.56 399.94,88.98 398.65,88.35 397.36,88.98 397.56,87.56 396.56,86.52 397.97,86.27" fill="#111"/>
</g>
<g transform="translate(0,1000)">
<path fill="#000" d="M16.2 22.8H27V25.9H20V29.1H26.6V32.4H20V39.1H16.2Z"/>
<text x="197.48" y="33.5" font-size="16" fill="#1c1c1c" stroke="#1c1c1c" stroke-width="0.25" textLength="97.25" lengthAdjust="spacingAndGlyphs">Liver fibrosis</text>
<rect x="58.3" y="53.9" width="2.3" height="134.3" fill="#000"/>
<rect x="52.9" y="180.70" width="6" height="1.8" fill="#000"/>
<text x="28.08" y="185.36" font-size="12.5" fill="#1c1c1c" stroke="#1c1c1c" stroke-width="0.25" textLength="19.09" lengthAdjust="spacingAndGlyphs">0%</text>
<rect x="52.9" y="156.38" width="6" height="1.8" fill="#000"/>
<text x="20.84" y="161.04" font-size="12.5" fill="#1c1c1c" stroke="#1c1c1c" stroke-width="0.25" textLength="26.33" lengthAdjust="spacingAndGlyphs">20%</text>
<rect x="52.9" y="132.06" width="6" height="1.8" fill="#000"/>
<text x="21.4" y="136.72" font-size="12.5" fill="#1c1c1c" stroke="#1c1c1c" stroke-width="0.25" textLength="25.75" lengthAdjust="spacingAndGlyphs">40%</text>
<rect x="52.9" y="107.74" width="6" height="1.8" fill="#000"/>
<text x="20.83" y="112.4" font-size="12.5" fill="#1c1c1c" stroke="#1c1c1c" stroke-width="0.25" textLength="26.34" lengthAdjust="spacingAndGlyphs">60%</text>
<rect x="52.9" y="83.42" width="6" height="1.8" fill="#000"/>
<text x="20.93" y="88.08" font-size="12.5" fill="#1c1c1c" stroke="#1c1c1c" stroke-width="0.25" textLength="26.24" lengthAdjust="spacingAndGlyphs">80%</text>
<rect x="52.9" y="59.10" width="6" height="1.8" fill="#000"/>
<text x="14.84" y="62.96" font-size="12.5" fill="#1c1c1c" stroke="#1c1c1c" stroke-width="0.25" textLength="32.31" lengthAdjust="spacingAndGlyphs">100%</text>
<rect x="70.2" y="59.7" width="61.5" height="122.00" fill="#69A843"/>
<rect x="70.2" y="103.2" width="61.5" height="78.50" fill="#2E4B7B"/>
<rect x="70.2" y="117.6" width="61.5" height="64.10" fill="#CE8E80"/>
<rect x="70.2" y="157.4" width="61.5" height="24.30" fill="#A3002B"/>
<polygon points="96.15,52.00 96.83,53.27 98.24,53.52 97.24,54.56 97.44,55.98 96.15,55.35 94.86,55.98 95.06,54.56 94.06,53.52 95.47,53.27" fill="#404040"/><polygon points="100.95,52.00 101.63,53.27 103.04,53.52 102.04,54.56 102.24,55.98 100.95,55.35 99.66,55.98 99.86,54.56 98.86,53.52 100.27,53.27" fill="#404040"/><polygon points="105.75,52.00 106.43,53.27 107.84,53.52 106.84,54.56 107.04,55.98 105.75,55.35 104.46,55.98 104.66,54.56 103.66,53.52 105.07,53.27" fill="#404040"/>
<polygon points="96.15,95.70 96.83,96.97 98.24,97.22 97.24,98.26 97.44,99.68 96.15,99.05 94.86,99.68 95.06,98.26 94.06,97.22 95.47,96.97" fill="#111"/><polygon points="100.95,95.70 101.63,96.97 103.04,97.22 102.04,98.26 102.24,99.68 100.95,99.05 99.66,99.68 99.86,98.26 98.86,97.22 100.27,96.97" fill="#111"/><polygon points="105.75,95.70 106.43,96.97 107.84,97.22 106.84,98.26 107.04,99.68 105.75,99.05 104.46,99.68 104.66,98.26 103.66,97.22 105.07,96.97" fill="#111"/>
<rect x="142.8" y="59.7" width="61.8" height="122.00" fill="#69A843"/>
<rect x="142.8" y="115.9" width="61.8" height="65.80" fill="#2E4B7B"/>
<rect x="142.8" y="115.9" width="61.8" height="65.80" fill="#CE8E80"/>
<rect x="142.8" y="148.5" width="61.8" height="33.20" fill="#A3002B"/>
<rect x="215.3" y="59.7" width="62.0" height="122.00" fill="#69A843"/>
<rect x="215.3" y="122.7" width="62.0" height="59.00" fill="#2E4B7B"/>
<rect x="215.3" y="134.1" width="62.0" height="47.60" fill="#CE8E80"/>
<rect x="215.3" y="149.3" width="62.0" height="32.40" fill="#A3002B"/>
<polygon points="246.30,52.00 246.98,53.27 248.39,53.52 247.39,54.56 247.59,55.98 246.30,55.35 245.01,55.98 245.21,54.56 244.21,53.52 245.62,53.27" fill="#404040"/>
<rect x="288.1" y="59.7" width="61.5" height="122.00" fill="#69A843"/>
<rect x="288.1" y="111.5" width="61.5" height="70.20" fill="#2E4B7B"/>
<rect x="288.1" y="140.4" width="61.5" height="41.30" fill="#CE8E80"/>
<rect x="288.1" y="165.2" width="61.5" height="16.50" fill="#A3002B"/>
<rect x="360.3" y="59.7" width="62.3" height="122.00" fill="#69A843"/>
<rect x="360.3" y="129.4" width="62.3" height="52.30" fill="#2E4B7B"/>
<rect x="360.3" y="165.5" width="62.3" height="16.20" fill="#CE8E80"/>
<rect x="360.3" y="178.5" width="62.3" height="3.20" fill="#A3002B"/>
<polygon points="384.25,52.00 384.93,53.27 386.34,53.52 385.34,54.56 385.54,55.98 384.25,55.35 382.96,55.98 383.16,54.56 382.16,53.52 383.57,53.27" fill="#404040"/><polygon points="389.05,52.00 389.73,53.27 391.14,53.52 390.14,54.56 390.34,55.98 389.05,55.35 387.76,55.98 387.96,54.56 386.96,53.52 388.37,53.27" fill="#404040"/><polygon points="393.85,52.00 394.53,53.27 395.94,53.52 394.94,54.56 395.14,55.98 393.85,55.35 392.56,55.98 392.76,54.56 391.76,53.52 393.17,53.27" fill="#404040"/><polygon points="398.65,52.00 399.33,53.27 400.74,53.52 399.74,54.56 399.94,55.98 398.65,55.35 397.36,55.98 397.56,54.56 396.56,53.52 397.97,53.27" fill="#404040"/>
<polygon points="384.25,121.90 384.93,123.17 386.34,123.42 385.34,124.46 385.54,125.88 384.25,125.25 382.96,125.88 383.16,124.46 382.16,123.42 383.57,123.17" fill="#111"/><polygon points="389.05,121.90 389.73,123.17 391.14,123.42 390.14,124.46 390.34,125.88 389.05,125.25 387.76,125.88 387.96,124.46 386.96,123.42 388.37,123.17" fill="#111"/><polygon points="393.85,121.90 394.53,123.17 395.94,123.42 394.94,124.46 395.14,125.88 393.85,125.25 392.56,125.88 392.76,124.46 391.76,123.42 393.17,123.17" fill="#111"/><polygon points="398.65,121.90 399.33,123.17 400.74,123.42 399.74,124.46 399.94,125.88 398.65,125.25 397.36,125.88 397.56,124.46 396.56,123.42 397.97,123.17" fill="#111"/>
<rect x="432.2" y="60.50" width="14.8" height="7.5" fill="#A3002B"/>
<text x="453.25" y="66.9" font-size="11" fill="#1c1c1c" stroke="#1c1c1c" stroke-width="0.25" textLength="42.54" lengthAdjust="spacingAndGlyphs">Cirrhosis</text>
<rect x="432.2" y="73.90" width="14.8" height="7.5" fill="#CE8E80"/>
<text x="452.91" y="80.3" font-size="11" fill="#1c1c1c" stroke="#1c1c1c" stroke-width="0.25" textLength="37.78" lengthAdjust="spacingAndGlyphs">Fibrosis</text>
<rect x="432.2" y="87.30" width="14.8" height="7.5" fill="#2E4B7B"/>
<text x="452.88" y="93.7" font-size="11" fill="#1c1c1c" stroke="#1c1c1c" stroke-width="0.25" textLength="52.72" lengthAdjust="spacingAndGlyphs">No fibrosis</text>
<rect x="432.2" y="100.70" width="14.8" height="7.5" fill="#69A843"/>
<text x="452.94" y="107.1" font-size="11" fill="#1c1c1c" stroke="#1c1c1c" stroke-width="0.25" textLength="46.38" lengthAdjust="spacingAndGlyphs">Unknown</text>
</g>
<text x="92.84" y="1198.2" font-size="13.5" fill="#1c1c1c" stroke="#1c1c1c" stroke-width="0.25" textLength="15.62" lengthAdjust="spacingAndGlyphs">99</text>
<text x="166.9" y="1198.2" font-size="13.5" fill="#1c1c1c" stroke="#1c1c1c" stroke-width="0.25" textLength="13.18" lengthAdjust="spacingAndGlyphs">11</text>
<text x="239.21" y="1198.2" font-size="13.5" fill="#1c1c1c" stroke="#1c1c1c" stroke-width="0.25" textLength="14.04" lengthAdjust="spacingAndGlyphs">46</text>
<text x="308.23" y="1198.2" font-size="13.5" fill="#1c1c1c" stroke="#1c1c1c" stroke-width="0.25" textLength="21.84" lengthAdjust="spacingAndGlyphs">558</text>
<text x="381.4" y="1198.2" font-size="13.5" fill="#1c1c1c" stroke="#1c1c1c" stroke-width="0.25" textLength="21.67" lengthAdjust="spacingAndGlyphs">426</text>
<text x="88.15" y="1218.6" font-size="13.5" fill="#1c1c1c" stroke="#1c1c1c" stroke-width="0.25" textLength="24.21" lengthAdjust="spacingAndGlyphs">HJV</text>
<text x="153.86" y="1218.6" font-size="13.5" fill="#1c1c1c" stroke="#1c1c1c" stroke-width="0.25" textLength="40.28" lengthAdjust="spacingAndGlyphs">HAMP</text>
<text x="231.73" y="1218.6" font-size="13.5" fill="#1c1c1c" stroke="#1c1c1c" stroke-width="0.25" textLength="29.66" lengthAdjust="spacingAndGlyphs">TFR2</text>
<text x="293.18" y="1218.6" font-size="13.5" fill="#1c1c1c" stroke="#1c1c1c" stroke-width="0.25" textLength="51.6" lengthAdjust="spacingAndGlyphs">Proband</text>
<text x="350.84" y="1218.6" font-size="13.5" fill="#1c1c1c" stroke="#1c1c1c" stroke-width="0.25" textLength="82.88" lengthAdjust="spacingAndGlyphs">Non-proband</text>
<text x="433.1" y="1199.2" font-size="13.5" fill="#1c1c1c" stroke="#1c1c1c" stroke-width="0.25" textLength="69.27" lengthAdjust="spacingAndGlyphs">n per group</text>
<rect x="287.7" y="1227.2" width="135.3" height="2" fill="#000"/>
<text x="342.47" y="1245.5" font-size="13.5" fill="#1c1c1c" stroke="#1c1c1c" stroke-width="0.25" textLength="25.07" lengthAdjust="spacingAndGlyphs">HFE</text>
</svg></body></html>
